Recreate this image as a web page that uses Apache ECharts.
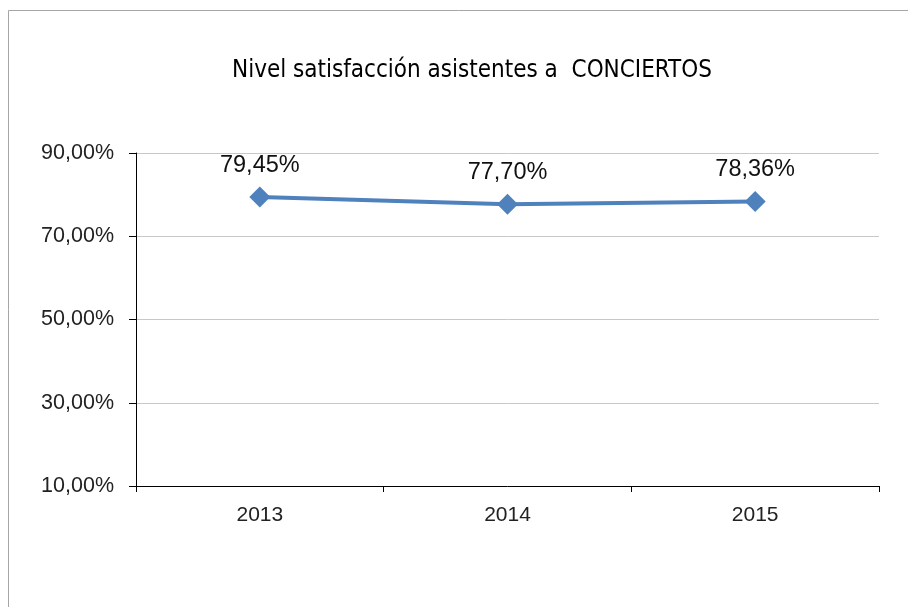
<!DOCTYPE html>
<html>
<head>
<meta charset="utf-8">
<script src="https://cdn.jsdelivr.net/npm/echarts@6/dist/echarts.min.js"></script>
<style>
  html, body { margin: 0; padding: 0; background: #fff; }
  #main { width: 908px; height: 607px; }
</style>
</head>
<body>
<div id="main"></div>
<script>
const years = ['2013', '2014', '2015'];
const satisfaction = [79.45, 77.70, 78.36];
const titleText = 'Nivel satisfacción asistentes a  CONCIERTOS';

function pct(v) {
    return v.toFixed(2).replace('.', ',') + '%';
}

let chart = echarts.init(document.getElementById('main'));
let option = {
    animation: false,
    backgroundColor: '#fff',
    graphic: [
        {
            type: 'rect',
            shape: { x: 8.5, y: 10.5, width: 920, height: 620 },
            style: { fill: 'none', stroke: '#a6a6a6', lineWidth: 1 },
            silent: true
        }
    ],
    title: {
        text: titleText,
        left: 467,
        textAlign: 'center',
        top: 54,
        textStyle: {
            fontFamily: 'DejaVu Sans Condensed',
            fontSize: 24,
            fontWeight: 'normal',
            color: '#000'
        }
    },
    grid: {
        left: 136,
        right: 29,
        top: 153,
        bottom: 121
    },
    xAxis: {
        type: 'category',
        data: years,
        boundaryGap: true,
        axisLine: { lineStyle: { color: '#000', width: 1 } },
        axisTick: { show: true, length: 6, inside: false, lineStyle: { color: '#000' } },
        axisLabel: {
            fontFamily: 'Liberation Sans',
            fontSize: 21,
            color: '#222',
            margin: 19
        },
        splitLine: { show: false }
    },
    yAxis: {
        type: 'value',
        min: 10,
        max: 90,
        interval: 20,
        axisLine: { show: true, lineStyle: { color: '#000', width: 1 } },
        axisTick: { show: true, length: 7, lineStyle: { color: '#000' } },
        axisLabel: {
            fontFamily: 'Liberation Sans',
            fontSize: 21.5,
            color: '#222',
            margin: 22,
            formatter: pct
        },
        splitLine: { show: true, lineStyle: { color: '#c8c8c8', width: 1 } }
    },
    series: [
        {
            type: 'line',
            data: satisfaction,
            symbol: 'diamond',
            symbolSize: 21,
            lineStyle: { color: '#4f81bd', width: 4 },
            itemStyle: { color: '#4f81bd' },
            label: {
                show: true,
                position: 'top',
                distance: 9,
                fontFamily: 'Liberation Sans',
                fontSize: 23.5,
                color: '#111',
                formatter: p => pct(p.value)
            }
        }
    ]
};
chart.setOption(option);
</script>
</body>
</html>
